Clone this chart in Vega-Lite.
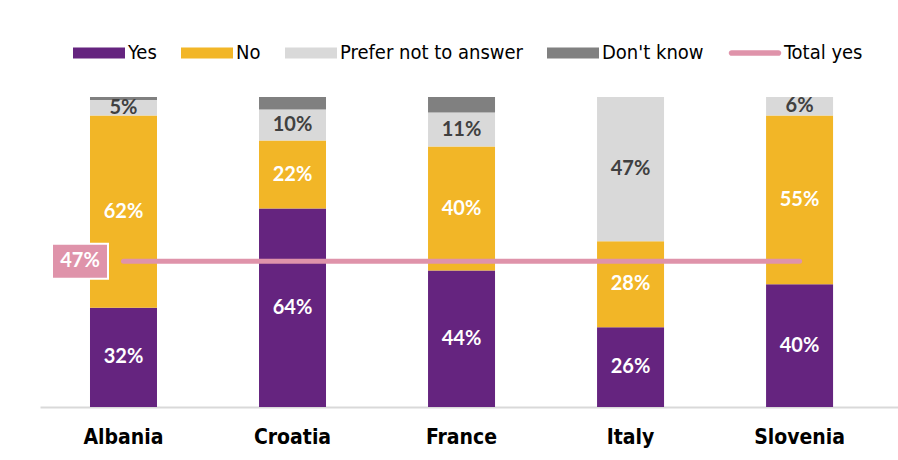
{
  "$schema": "https://vega.github.io/schema/vega-lite/v6.json",
  "autosize": {"type": "none"},
  "width": 858,
  "height": 310,
  "padding": {"left": 40, "top": 97, "right": 0, "bottom": 53},
  "background": "white",
  "config": {"view": {"stroke": null}},
  "datasets": {
    "survey": [
      {"country": "Albania", "category": "Yes", "order": 1, "value": 32},
      {"country": "Albania", "category": "No", "order": 2, "value": 62},
      {"country": "Albania", "category": "Prefer not to answer", "order": 3, "value": 5},
      {"country": "Albania", "category": "Don't know", "order": 4, "value": 1},
      {"country": "Croatia", "category": "Yes", "order": 1, "value": 64},
      {"country": "Croatia", "category": "No", "order": 2, "value": 22},
      {"country": "Croatia", "category": "Prefer not to answer", "order": 3, "value": 10},
      {"country": "Croatia", "category": "Don't know", "order": 4, "value": 4},
      {"country": "France", "category": "Yes", "order": 1, "value": 44},
      {"country": "France", "category": "No", "order": 2, "value": 40},
      {"country": "France", "category": "Prefer not to answer", "order": 3, "value": 11},
      {"country": "France", "category": "Don't know", "order": 4, "value": 5},
      {"country": "Italy", "category": "Yes", "order": 1, "value": 26},
      {"country": "Italy", "category": "No", "order": 2, "value": 28},
      {"country": "Italy", "category": "Prefer not to answer", "order": 3, "value": 47},
      {"country": "Italy", "category": "Don't know", "order": 4, "value": 0},
      {"country": "Slovenia", "category": "Yes", "order": 1, "value": 40},
      {"country": "Slovenia", "category": "No", "order": 2, "value": 55},
      {"country": "Slovenia", "category": "Prefer not to answer", "order": 3, "value": 6},
      {"country": "Slovenia", "category": "Don't know", "order": 4, "value": 0}
    ],
    "total": [
      {"from": "Albania", "to": "Slovenia", "total": 0.47, "label": "47%"}
    ]
  },
  "layer": [
    {
      "data": {"name": "survey"},
      "transform": [
        {"stack": "value", "groupby": ["country"], "sort": [{"field": "order"}], "offset": "normalize", "as": ["y0", "y1"]}
      ],
      "mark": {"type": "bar"},
      "encoding": {
        "x": {
          "field": "country", "type": "nominal",
          "sort": ["Albania", "Croatia", "France", "Italy", "Slovenia"],
          "scale": {"paddingInner": 0.6036, "paddingOuter": 0.34, "align": 0.435},
          "axis": {
            "title": null, "labelAngle": 0, "ticks": false,
            "domainColor": "#d9d9d9", "domainWidth": 2,
            "labelFont": "DejaVu Sans Condensed", "labelFontWeight": "bold",
            "labelFontSize": 21, "labelColor": "#000000", "labelPadding": 19
          }
        },
        "y": {"field": "y0", "type": "quantitative", "scale": {"domain": [0, 1]}, "axis": null},
        "y2": {"field": "y1"},
        "color": {
          "field": "category", "type": "nominal",
          "scale": {
            "domain": ["Yes", "No", "Prefer not to answer", "Don't know", "Total yes"],
            "range": ["#65247F", "#F2B627", "#D9D9D9", "#808080", "#DF93AA"]
          },
          "legend": {
            "title": null,
            "orient": "none",
            "legendX": 33,
            "legendY": -70,
            "direction": "horizontal",
            "columnPadding": 24,
            "symbolType": "M-1,-0.21H1V0.21H-1Z",
            "symbolSize": 2704,
            "symbolStrokeWidth": 0,
            "labelFont": "DejaVu Sans Condensed",
            "labelFontSize": 20,
            "labelLimit": 400,
            "labelColor": "#000000",
            "labelOffset": 3,
            "encode": {
              "symbols": {
                "update": {
                  "shape": [
                    {"test": "datum.value === 'Total yes'", "value": "M-0.9,-0.11H0.9A0.11,0.11 0 0 1 0.9,0.11H-0.9A0.11,0.11 0 0 1 -0.9,-0.11Z"},
                    {"value": "M-1,-0.21H1V0.21H-1Z"}
                  ]
                }
              }
            }
          }
        }
      }
    },
    {
      "data": {"name": "survey"},
      "transform": [
        {"stack": "value", "groupby": ["country"], "sort": [{"field": "order"}], "offset": "normalize", "as": ["y0", "y1"]},
        {"filter": "datum.category !== \"Don't know\" && datum.value >= 5"},
        {"calculate": "(datum.y0 + datum.y1) / 2", "as": "mid"},
        {"calculate": "datum.value + '%'", "as": "label"}
      ],
      "mark": {"type": "text", "font": "Lato", "fontWeight": "bold", "fontSize": 20, "baseline": "middle", "align": "center"},
      "encoding": {
        "x": {"field": "country", "type": "nominal", "sort": ["Albania", "Croatia", "France", "Italy", "Slovenia"]},
        "y": {"field": "mid", "type": "quantitative"},
        "text": {"field": "label"},
        "color": {
          "condition": {"test": "datum.category === 'Prefer not to answer'", "value": "#404040"},
          "value": "#FFFFFF"
        }
      }
    },
    {
      "data": {"name": "total"},
      "mark": {"type": "rule", "stroke": "#DF93AA", "strokeWidth": 5, "strokeCap": "round"},
      "encoding": {
        "x": {"field": "from", "type": "nominal"},
        "x2": {"field": "to"},
        "y": {"field": "total", "type": "quantitative"}
      }
    },
    {
      "data": {"name": "total"},
      "mark": {
        "type": "point", "filled": true, "fill": "#DF93AA", "stroke": "#FFFFFF", "strokeWidth": 2,
        "opacity": 1, "shape": "M-1,-0.625H1V0.625H-1Z", "size": 3136, "xOffset": -43.5
      },
      "encoding": {
        "x": {"field": "from", "type": "nominal"},
        "y": {"field": "total", "type": "quantitative"}
      }
    },
    {
      "data": {"name": "total"},
      "mark": {"type": "text", "font": "Lato", "fontWeight": "bold", "fontSize": 20, "color": "#FFFFFF", "baseline": "middle", "align": "center", "xOffset": -43.5},
      "encoding": {
        "x": {"field": "from", "type": "nominal"},
        "y": {"field": "total", "type": "quantitative"},
        "text": {"field": "label"}
      }
    }
  ]
}
